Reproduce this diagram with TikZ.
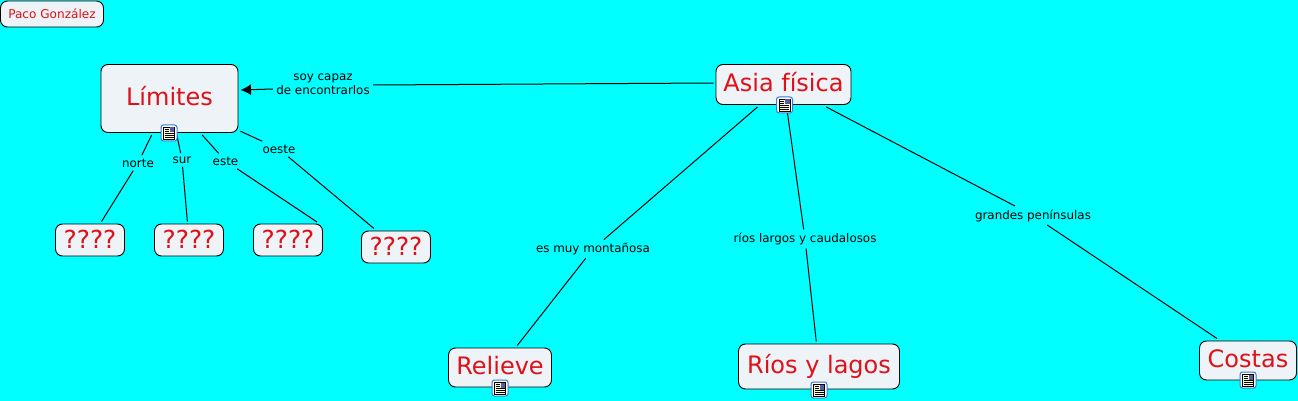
\documentclass[tikz,border=0pt]{standalone}
\usepackage{fontspec}
\setmainfont{DejaVu Sans}
\usetikzlibrary{arrows.meta}
\definecolor{bgc}{RGB}{0,255,255}
\definecolor{boxc}{RGB}{238,243,247}
\definecolor{redt}{RGB}{224,16,24}
\definecolor{icob}{RGB}{58,120,210}
\definecolor{icoc}{RGB}{255,250,205}
\tikzset{
 concept/.style={draw=black,line width=0.9pt,fill=boxc,rounded corners=7pt,text=redt,inner sep=0pt,align=center,outer sep=2.5pt},
 big/.style={concept,font=\fontsize{24}{28}\selectfont,text height=15pt,text depth=1pt},
 mid/.style={concept,font=\fontsize{24.8}{28}\selectfont,text height=16pt,text depth=0pt},
 small/.style={concept,font=\fontsize{12.1}{14}\selectfont},
 lbl/.style={font=\fontsize{11.9}{14.4}\selectfont,text=black,inner sep=1pt,outer sep=2.5pt,align=center},
 link/.style={draw=black,line width=1pt},
 arr/.style={link,-{Latex[length=10.5pt,width=11pt]}},
}
\newcommand{\noteicon}[2]{%
 \begin{scope}[shift={(#1,#2)}]
  \draw[draw=icob,fill=white,line width=1pt,rounded corners=2.5pt] (-8,-8) rectangle (8,8);
  \draw[draw=black,fill=icoc,line width=0.7pt] (-5.5,-6) rectangle (5.5,6);
  \fill[gray!70!blue] (0.5,-5.5) rectangle (5,-0.5);
  \draw[black,line width=0.6pt] (-4.5,-4)--(-0.5,-4) (-4.5,-2)--(-0.5,-2) (-4.5,0.5)--(4.5,0.5) (-4.5,2.5)--(4.5,2.5) (-4.5,4.5)--(4.5,4.5);
 \end{scope}}
\begin{document}
\begin{tikzpicture}[x=1pt,y=-1pt]
\path[use as bounding box,fill=bgc] (0,0) rectangle (1298,401);
\node[small,minimum width=103pt,minimum height=26pt] (paco) at (52,14) {Paco González};
\node[big,minimum width=137pt,minimum height=68pt] (lim) at (169.5,98.5) {Límites};
\node[big,minimum width=135pt,minimum height=40pt] (asia) at (783.5,84.5) {Asia física};
\node[mid,minimum width=69pt,minimum height=32pt] (q1) at (90,240) {????};
\node[mid,minimum width=69pt,minimum height=32pt] (q2) at (189,240) {????};
\node[mid,minimum width=69pt,minimum height=32pt] (q3) at (288,240) {????};
\node[mid,minimum width=69pt,minimum height=32pt] (q4) at (396,247) {????};
\node[big,minimum width=103pt,minimum height=39pt] (rel) at (500,367.5) {Relieve};
\node[big,minimum width=161pt,minimum height=45pt] (rio) at (819,366.5) {Ríos y lagos};
\node[big,minimum width=97pt,minimum height=39pt] (cos) at (1248,360.5) {Costas};
\node[lbl] (l0) at (323,84) {soy capaz\\de encontrarlos};
\node[lbl] (l1) at (138,163) {norte};
\node[lbl] (l2) at (182,160) {sur};
\node[lbl] (l3) at (225.5,161) {este};
\node[lbl] (l4) at (279,149) {oeste};
\node[lbl] (l5) at (593,249) {es muy montañosa};
\node[lbl] (l6) at (805,239) {ríos largos y caudalosos};
\node[lbl] (l7) at (1033,215.5) {grandes penínsulas};
\draw[link] ([yshift=1.5pt]asia.west) -- ([yshift=-1pt]l0.east);
\draw[arr] ([yshift=-5pt]l0.west) -- ([yshift=8.5pt]lim.east);
\draw[link] (lim) -- (l1);
\draw[link] (l1) -- (q1);
\draw[link] (lim) -- (l2);
\draw[link] (l2) -- (q2);
\draw[link] (lim) -- (l3);
\draw[link] (l3) -- ([xshift=-8pt,yshift=-0.5pt]q3.north east);
\draw[link] (lim) -- (l4);
\draw[link] (l4) -- (q4);
\draw[link] (asia) -- (l5);
\draw[link] (l5) -- (rel);
\draw[link] (asia) -- (l6);
\draw[link] (l6) -- (rio);
\draw[link] (asia) -- (l7);
\draw[link] (l7) -- ([xshift=20pt,yshift=0pt]cos.north west);
\noteicon{169}{133}
\noteicon{784.5}{105}
\noteicon{500}{388}
\noteicon{819}{390}
\noteicon{1248}{380}
\end{tikzpicture}
\end{document}
